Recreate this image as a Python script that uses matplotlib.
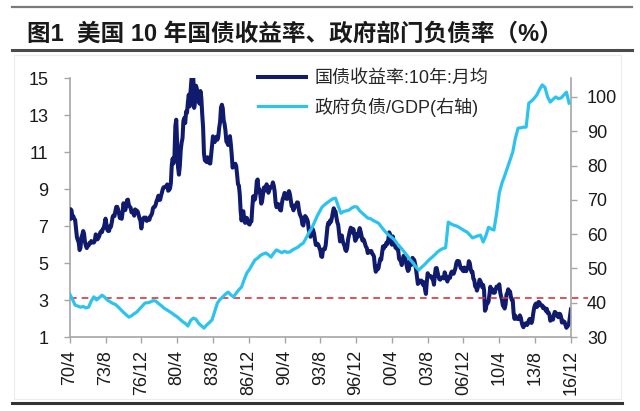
import numpy as np
import matplotlib
matplotlib.use("Agg")
import matplotlib.pyplot as plt
from matplotlib.lines import Line2D
from matplotlib.patches import Rectangle

plt.rcParams['font.family'] = ['Liberation Sans', 'Noto Sans CJK SC', 'DejaVu Sans']

# 美国10年国债收益率, 月均, 1970/4 - 2016/12
yield_10y = [
    7.39, 7.91, 7.84, 7.46, 7.53, 7.39, 7.33, 6.84, 6.39,
    6.24, 6.11, 5.70, 5.83, 6.39, 6.52, 6.73, 6.58, 6.14, 5.93, 5.81, 5.93,
    5.95, 6.08, 6.07, 6.19, 6.13, 6.11, 6.11, 6.21, 6.55, 6.48, 6.28, 6.36,
    6.46, 6.64, 6.71, 6.67, 6.85, 6.90, 7.13, 7.40, 7.09, 6.79, 6.73, 6.74,
    6.99, 6.96, 7.21, 7.51, 7.58, 7.54, 7.81, 8.04, 8.04, 7.90, 7.68, 7.43,
    7.50, 7.39, 7.73, 8.23, 8.06, 7.86, 8.06, 8.40, 8.43, 8.14, 8.05, 8.00,
    7.74, 7.79, 7.73, 7.56, 7.90, 7.86, 7.83, 7.77, 7.59, 7.41, 7.29, 6.87,
    7.21, 7.39, 7.46, 7.37, 7.46, 7.28, 7.33, 7.40, 7.34, 7.52, 7.58, 7.69,
    7.96, 8.03, 8.04, 8.15, 8.35, 8.46, 8.64, 8.41, 8.42, 8.64, 8.81, 9.01,
    9.10, 9.10, 9.12, 9.18, 9.25, 8.91, 8.95, 9.03, 9.33, 10.30, 10.65, 10.39,
    10.80, 12.41, 12.75, 11.47, 10.18, 9.78, 10.25, 11.10, 11.51, 11.75, 12.68, 12.84,
    12.57, 13.19, 13.12, 13.68, 14.10, 13.47, 14.28, 14.94, 15.32, 15.15, 13.39, 13.72,
    14.59, 14.43, 13.86, 13.87, 13.62, 14.30, 13.95, 13.06, 12.34, 10.91, 10.55, 10.54,
    10.46, 10.72, 10.51, 10.40, 10.38, 10.85, 11.38, 11.85, 11.65, 11.54, 11.69, 11.83,
    11.67, 11.84, 12.32, 12.63, 13.41, 13.56, 13.36, 12.72, 12.52, 12.16, 11.57, 11.50,
    11.38, 11.51, 11.86, 11.43, 10.85, 10.16, 10.31, 10.33, 10.37, 10.24, 9.78, 9.26,
    9.19, 8.70, 7.78, 7.30, 7.71, 7.80, 7.30, 7.17, 7.45, 7.43, 7.25, 7.11,
    7.08, 7.25, 7.25, 8.02, 8.61, 8.40, 8.45, 8.76, 9.42, 9.52, 8.86, 8.99,
    8.67, 8.21, 8.37, 8.72, 9.09, 8.92, 9.06, 9.26, 8.98, 8.80, 8.96, 9.11,
    9.09, 9.17, 9.36, 9.18, 8.86, 8.28, 8.02, 8.11, 8.19, 8.01, 7.87, 7.84,
    8.21, 8.47, 8.59, 8.79, 8.76, 8.48, 8.47, 8.75, 8.89, 8.72, 8.39, 8.08,
    8.09, 7.85, 8.11, 8.04, 8.07, 8.28, 8.27, 7.90, 7.65, 7.53, 7.42, 7.09,
    7.03, 7.34, 7.54, 7.48, 7.39, 7.26, 6.84, 6.59, 6.42, 6.59, 6.87, 6.77,
    6.60, 6.26, 5.98, 5.97, 6.04, 5.96, 5.81, 5.68, 5.36, 5.33, 5.72, 5.77,
    5.75, 5.97, 6.48, 6.97, 7.18, 7.10, 7.30, 7.24, 7.46, 7.74, 7.96, 7.81,
    7.78, 7.47, 7.20, 7.06, 6.63, 6.17, 6.28, 6.49, 6.20, 6.04, 5.93, 5.71,
    5.65, 5.81, 6.27, 6.51, 6.74, 6.91, 6.87, 6.64, 6.83, 6.53, 6.20, 6.30,
    6.58, 6.42, 6.69, 6.89, 6.71, 6.49, 6.22, 6.30, 6.21, 6.03, 5.88, 5.81,
    5.54, 5.57, 5.65, 5.64, 5.65, 5.50, 5.46, 5.34, 4.81, 4.53, 4.83, 4.65,
    4.72, 5.00, 5.23, 5.18, 5.54, 5.90, 5.79, 5.94, 5.92, 6.11, 6.03, 6.28,
    6.66, 6.52, 6.26, 5.99, 6.44, 6.10, 6.05, 5.83, 5.80, 5.74, 5.72, 5.24,
    5.16, 5.10, 4.89, 5.14, 5.39, 5.28, 5.24, 4.97, 4.73, 4.57, 4.65, 5.09,
    5.04, 4.91, 5.28, 5.21, 5.16, 4.93, 4.65, 4.26, 3.87, 3.94, 4.05, 4.03,
    4.05, 3.90, 3.81, 3.96, 3.57, 3.33, 3.98, 4.45, 4.27, 4.29, 4.30, 4.27,
    4.15, 4.08, 3.83, 4.35, 4.72, 4.73, 4.50, 4.28, 4.13, 4.10, 4.19, 4.23,
    4.22, 4.17, 4.50, 4.34, 4.14, 4.00, 4.18, 4.26, 4.20, 4.46, 4.54, 4.47,
    4.42, 4.57, 4.72, 4.99, 5.11, 5.11, 5.09, 4.88, 4.72, 4.73, 4.60, 4.56,
    4.76, 4.72, 4.56, 4.69, 4.75, 5.10, 5.00, 4.67, 4.52, 4.53, 4.15, 4.10,
    3.74, 3.74, 3.51, 3.68, 3.88, 4.10, 4.01, 3.89, 3.69, 3.81, 3.53, 2.42,
    2.52, 2.87, 2.82, 2.93, 3.29, 3.72, 3.56, 3.59, 3.40, 3.39, 3.40, 3.59,
    3.73, 3.69, 3.73, 3.85, 3.42, 3.20, 3.01, 2.70, 2.65, 2.54, 2.76, 3.29,
    3.39, 3.58, 3.41, 3.46, 3.17, 3.00, 3.00, 2.30, 1.98, 2.15, 2.01, 1.98,
    1.97, 1.97, 2.17, 2.05, 1.80, 1.62, 1.53, 1.68, 1.72, 1.75, 1.65, 1.72,
    1.91, 1.98, 1.96, 1.76, 1.93, 2.30, 2.58, 2.74, 2.81, 2.62, 2.72, 2.90,
    2.86, 2.71, 2.72, 2.71, 2.56, 2.60, 2.54, 2.42, 2.53, 2.30, 2.33, 2.21,
    1.88, 1.98, 2.04, 1.94, 2.20, 2.36, 2.32, 2.17, 2.17, 2.07, 2.26, 2.24,
    2.09, 1.78, 1.89, 1.81, 1.81, 1.64, 1.50, 1.56, 1.63, 1.76, 2.14, 2.49,
]

# 政府负债/GDP, 季度, 1970Q2 - 2016Q4 (右轴)
debt_gdp = [
    42.5, 41.0, 39.3, 39.0, 38.7, 38.9, 38.5, 38.7, 40.5, 41.7,
    40.8, 41.5, 42.2, 41.6, 40.8, 40.3, 39.8, 39.5, 38.8, 38.0,
    37.2, 36.5, 35.8, 36.2, 36.8, 37.3, 38.2, 39.0, 39.9, 40.0,
    40.2, 40.6, 40.5, 39.8, 39.2, 38.5, 38.0, 37.5, 37.0, 36.4,
    35.9, 35.2, 34.5, 34.0, 33.2, 34.8, 35.5, 35.2, 34.0, 33.3,
    32.6, 33.5, 34.2, 35.0, 37.5, 39.9, 41.0, 41.7, 42.5, 43.1,
    42.3, 41.7, 42.8, 43.8, 44.6, 46.8, 48.7, 49.8, 51.2, 52.5,
    53.0, 53.8, 54.2, 54.5, 54.0, 53.3, 54.5, 55.4, 55.0, 54.6,
    55.0, 54.7, 54.8, 55.4, 55.8, 56.2, 56.9, 57.4, 58.8, 60.3,
    61.5, 63.2, 65.0, 66.5, 67.9, 68.6, 69.2, 69.8, 70.3, 70.5,
    68.2, 66.1, 66.6, 66.8, 67.0, 67.6, 68.0, 67.9, 66.8, 66.1,
    65.4, 64.7, 64.5, 64.0, 63.6, 63.2, 62.2, 61.2, 60.3, 59.6,
    59.0, 58.3, 57.2, 56.3, 55.4, 54.4, 53.4, 52.4, 51.5, 50.4,
    49.5, 50.3, 51.0, 51.8, 52.6, 53.3, 54.0, 54.8, 55.4, 55.8,
    56.0, 63.5, 63.0, 62.6, 62.4, 62.0, 61.5, 61.0, 60.6, 59.8,
    58.9, 59.2, 59.5, 59.7, 57.7, 59.5, 62.0, 61.5, 61.2, 66.0,
    72.0, 74.9, 77.0, 79.3, 81.5, 83.9, 88.0, 90.9, 91.0, 91.2,
    91.2, 98.2, 98.8, 99.6, 100.6, 102.2, 103.5, 102.8, 100.0, 98.5,
    99.3, 100.0, 99.5, 99.7, 100.5, 101.4, 98.2,
]

xtick_labels = ['70/4', '73/8', '76/12', '80/4', '83/8', '86/12', '90/4', '93/8',
                '96/12', '00/4', '03/8', '06/12', '10/4', '13/8', '16/12']
left_ticks = [1, 3, 5, 7, 9, 11, 13, 15]
right_ticks = [30, 40, 50, 60, 70, 80, 90, 100]
ref_level = 3.12

navy = '#101b6e'
cyan = '#2cc3ee'
grey = '#a6a6a6'

x_month = np.arange(len(yield_10y))
x_quarter = np.arange(len(debt_gdp)) * 3

fig = plt.figure(figsize=(6.4, 4.11), dpi=100)
ax = fig.add_axes([0.109, 0.180, 0.783, 0.630])
ax2 = ax.twinx()

l1, = ax.plot(x_month, yield_10y, color=navy, lw=2.9, solid_joinstyle='round',
              label='国债收益率:10年:月均', zorder=3)
l2, = ax2.plot(x_quarter, debt_gdp, color=cyan, lw=2.3, solid_joinstyle='round',
               label='政府负债/GDP(右轴)', zorder=3)
ax.axhline(ref_level, xmin=0, xmax=1.035, color='#d9363e', lw=1.2,
           ls=(0, (4, 3)), clip_on=False, zorder=5)

ax.set_xlim(0, len(yield_10y) - 1)
ax.set_ylim(1, 15)
ax2.set_ylim(30, 105.5)
ax.set_yticks(left_ticks)
ax2.set_yticks(right_ticks)
ax.set_xticks(np.arange(0, len(yield_10y), 40))
ax.set_xticklabels(xtick_labels, rotation=90, va='top', ha='center')

for a in (ax, ax2):
    a.set_facecolor('none')
    a.spines['top'].set_visible(False)
    for s in ('left', 'right', 'bottom'):
        a.spines[s].set_color(grey)
        a.spines[s].set_linewidth(1.2)
ax.spines['right'].set_visible(False)
ax2.spines['left'].set_visible(False)
ax2.spines['bottom'].set_visible(False)

ax.tick_params(axis='y', direction='out', length=4.5, width=1.0, color=grey,
               labelsize=13, pad=11, labelcolor='#1a1a1a')
ax2.tick_params(axis='y', direction='out', length=4.5, width=1.0, color=grey,
                labelsize=13, pad=7, labelcolor='#1a1a1a')
ax.tick_params(axis='x', direction='out', length=4.5, width=1.0, color=grey,
               labelsize=13, pad=5, labelcolor='#1a1a1a')

leg = ax.legend([l1, l2], [l1.get_label(), l2.get_label()], loc='upper left',
                bbox_to_anchor=(0.375, 1.03), frameon=False, fontsize=13,
                handlelength=2.7, handletextpad=0.45, labelspacing=0.55,
                borderpad=0, borderaxespad=0)
for t in leg.get_texts():
    t.set_color('#262626')
leg.set_zorder(6)

# title and frame lines
fig.text(0.042, 0.918, '图1  美国 10 年国债收益率、政府部门负债率（%）',
         fontsize=17, fontweight='bold', color='#1a1a1a', va='center', ha='left')
fig.add_artist(Line2D([0.019, 0.988], [0.983, 0.983], color='#7a7a7a', lw=1.6))
fig.add_artist(Line2D([0.019, 0.988], [0.878, 0.878], color='#4a4a4a', lw=2.2))
fig.add_artist(Line2D([0.019, 0.972], [0.020, 0.020], color='#333333', lw=2.2))
fig.add_artist(Rectangle((0.022, 0.030), 0.948, 0.835, transform=fig.transFigure,
                         fill=False, edgecolor='#ececec', lw=0.8))

fig.savefig('out.png', dpi=100)
